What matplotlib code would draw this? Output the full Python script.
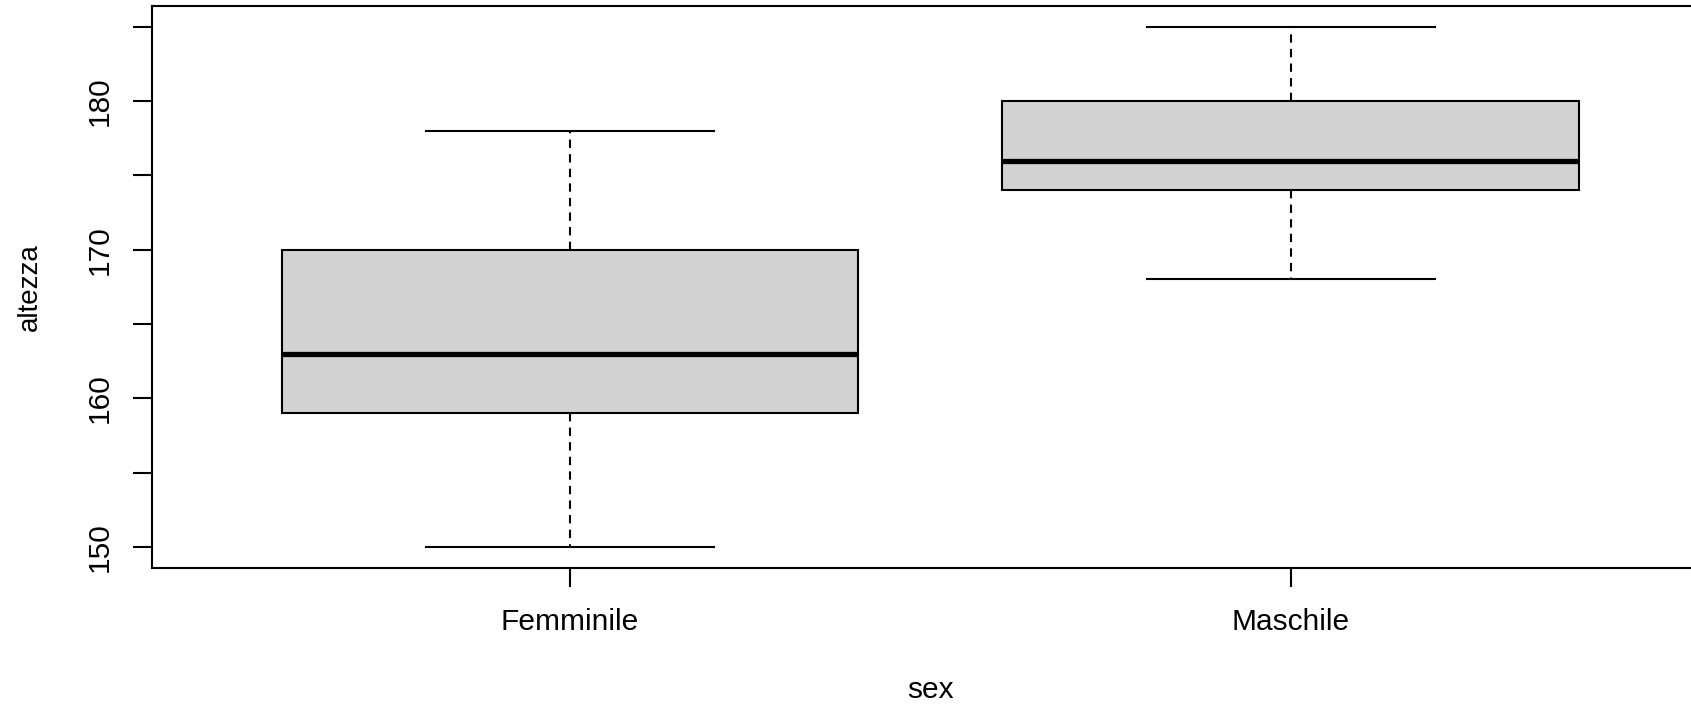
import matplotlib.pyplot as plt

plt.rcParams['font.family'] = ['Liberation Sans', 'DejaVu Sans']

groups = ['Femminile', 'Maschile']
whislo = [150, 168]
q1 = [159, 174]
med = [163, 176]
q3 = [170, 180]
whishi = [178, 185]

stats = []
for i, name in enumerate(groups):
    stats.append({
        "label": name,
        "whislo": whislo[i],
        "q1": q1[i],
        "med": med[i],
        "q3": q3[i],
        "whishi": whishi[i],
        "fliers": [],
    })

W, H = 1691, 710
fs = 21.5
fig = plt.figure(figsize=(W / 100, H / 100), dpi=100)
# plot region runs past the right edge of the canvas
ax = fig.add_axes([152 / W, (H - 567.7) / H, (1708.7 - 152) / W, (567.7 - 6) / H])

lw = 1.5
ax.bxp(stats, positions=[1, 2], widths=0.8, patch_artist=True,
       boxprops=dict(facecolor='#d3d3d3', edgecolor='black', linewidth=lw),
       medianprops=dict(color='black', linewidth=3.8, solid_capstyle='butt'),
       whiskerprops=dict(color='black', linewidth=lw, linestyle=(0, (4, 3))),
       capprops=dict(color='black', linewidth=lw))

ax.set_xlim(0.42, 2.58)
ax.set_ylim(148.6, 186.4)
ax.set_yticks([150, 155, 160, 165, 170, 175, 180, 185])
ax.set_yticklabels(['150', '', '160', '', '170', '', '180', ''],
                   rotation=90, va='center', fontsize=fs)
ax.set_xticklabels(groups, fontsize=fs)

for s in ax.spines.values():
    s.set_linewidth(lw)

ax.tick_params(axis='both', length=13.7, width=lw)
ax.tick_params(axis='x', pad=15)
ax.tick_params(axis='y', pad=14)

ax.set_xlabel('sex', fontsize=fs, va='center')
ax.set_ylabel('altezza', fontsize=20, va='center')
ax.xaxis.set_label_coords(0.5, -0.2177)
ax.yaxis.set_label_coords(-0.0784, 0.5)

fig.savefig('out.png', dpi=100)
